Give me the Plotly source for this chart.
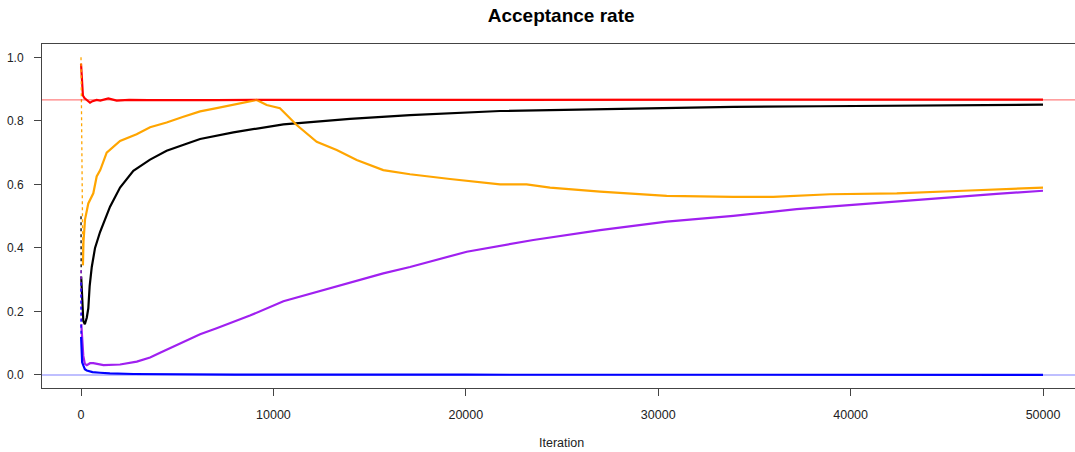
import plotly.graph_objects as go

# Running acceptance rate of five samplers over 50,000 iterations
black_iter = [1, 4, 10, 40, 80, 120, 200, 300, 380, 450, 560, 730, 990, 1250, 1510, 2030,
              2720, 3590, 4450, 5670, 6190, 7920, 10520, 13980, 17100, 21780, 26980,
              33900, 38410, 44130, 49320, 50000]
black_rate = [0.50, 0.33, 0.31, 0.26, 0.20, 0.17, 0.16, 0.18, 0.21, 0.28, 0.34, 0.40, 0.45,
              0.49, 0.53, 0.59, 0.643, 0.678, 0.706, 0.732, 0.743, 0.764, 0.789, 0.806,
              0.818, 0.831, 0.837, 0.844, 0.846, 0.848, 0.850, 0.851]

red_iter = [1, 10, 30, 60, 100, 180, 300, 470, 600, 815, 1000, 1420, 1855, 2500, 3500, 5000,
            7000, 9000, 12000, 16000, 20000, 25000, 30000, 35000, 40000, 45000, 50000]
red_rate = [0.98, 0.97, 0.93, 0.90, 0.88, 0.872, 0.865, 0.857, 0.862, 0.866, 0.864, 0.871,
            0.864, 0.866, 0.865, 0.864, 0.865, 0.866, 0.866, 0.866, 0.866, 0.867, 0.866,
            0.867, 0.867, 0.867, 0.867]

orange_iter = [1, 15, 40, 70, 100, 130, 210, 380, 640, 815, 1000, 1335, 2030, 2890, 3590,
               4450, 5320, 6190, 7050, 8000, 9130, 9650, 10340, 11210, 12250, 13290, 14330,
               15710, 17100, 19180, 21780, 23160, 24380, 26980, 30440, 33900, 35980, 38930,
               42400, 45860, 50000]
orange_rate = [1.00, 0.85, 0.70, 0.50, 0.345, 0.42, 0.49, 0.54, 0.572, 0.625, 0.645, 0.70,
               0.737, 0.758, 0.78, 0.795, 0.813, 0.83, 0.840, 0.852, 0.866, 0.850, 0.840,
               0.787, 0.734, 0.708, 0.677, 0.645, 0.632, 0.617, 0.600, 0.600, 0.590, 0.577,
               0.564, 0.561, 0.561, 0.569, 0.572, 0.580, 0.590]

purple_iter = [1, 5, 15, 60, 120, 200, 300, 470, 640, 1170, 1680, 2030, 2900, 3240, 3590,
               4110, 5320, 6190, 7050, 8780, 10520, 12250, 13980, 15710, 17100, 20050,
               23510, 26980, 30440, 33900, 37200, 40660, 44130, 47590, 50000]
purple_rate = [0.33, 0.25, 0.16, 0.10, 0.06, 0.035, 0.031, 0.037, 0.037, 0.031, 0.031, 0.033,
               0.042, 0.049, 0.055, 0.07, 0.105, 0.128, 0.147, 0.187, 0.232, 0.262, 0.292,
               0.320, 0.340, 0.388, 0.425, 0.456, 0.483, 0.501, 0.522, 0.538, 0.556, 0.570,
               0.580]

blue_iter = [1, 5, 20, 60, 120, 200, 300, 600, 990, 1500, 2720, 4000, 8000, 20000, 50000]
blue_rate = [0.29, 0.12, 0.08, 0.04, 0.03, 0.018, 0.014, 0.009, 0.007, 0.005, 0.003, 0.002,
             0.001, 0.0008, 0.0005]

# number of leading points shown as sparse burn-in dots
burn_in = {"black": 3, "red": 0, "orange": 5, "purple": 3, "blue": 2}

target_red = 0.866
target_blue = 0.0

x_ticks = [0, 10000, 20000, 30000, 40000, 50000]
y_ticks = [0.0, 0.2, 0.4, 0.6, 0.8, 1.0]

series = [
    ("black", "#000000", black_iter, black_rate),
    ("red", "#FF0000", red_iter, red_rate),
    ("orange", "#FFA500", orange_iter, orange_rate),
    ("purple", "#A020F0", purple_iter, purple_rate),
    ("blue", "#0000FF", blue_iter, blue_rate),
]

fig = go.Figure()
for name, color, xs, ys in series:
    n = burn_in[name]
    if n > 1:
        fig.add_trace(go.Scatter(x=xs[:n], y=ys[:n], mode="lines",
                                 line=dict(color=color, width=1.3, dash="dot"),
                                 showlegend=False, hoverinfo="skip"))
    start = max(n - 1, 0)
    fig.add_trace(go.Scatter(x=xs[start:], y=ys[start:], mode="lines",
                             line=dict(color=color, width=2.2),
                             name=name, showlegend=False))

for level, col in [(target_red, "rgba(255,0,0,0.5)"), (target_blue, "rgba(0,0,255,0.5)")]:
    fig.add_shape(type="line", xref="paper", x0=0, x1=1, yref="y", y0=level, y1=level,
                  line=dict(color=col, width=1.2), layer="above")

sans = "Liberation Sans, Arial, sans-serif"
axis_font = dict(family=sans, size=12, color="#222")

fig.update_layout(
    width=1075, height=452,
    margin=dict(l=42, r=0, t=44, b=64),
    paper_bgcolor="white", plot_bgcolor="white",
    title=dict(text="<b>Acceptance rate</b>", x=0.522, xanchor="center",
               y=1 - 15 / 452, yanchor="middle",
               font=dict(family=sans, size=19, color="#000")),
    xaxis=dict(range=[-2027, 51663], tickvals=x_ticks,
               ticktext=[str(v) for v in x_ticks],
               ticks="outside", ticklen=7, tickcolor="#444", tickwidth=1,
               showline=True, linecolor="#444", linewidth=1, mirror=True,
               showgrid=False, zeroline=False, ticklabelstandoff=8,
               tickfont=dict(family=sans, size=12.5, color="#222")),
    yaxis=dict(range=[-0.041, 1.042], tickvals=y_ticks,
               ticktext=[f"{v:.1f}" for v in y_ticks],
               ticks="outside", ticklen=7, tickcolor="#444", tickwidth=1,
               showline=True, linecolor="#444", linewidth=1, mirror=False,
               showgrid=False, zeroline=False, ticklabelstandoff=8, tickfont=axis_font),
    annotations=[dict(text="Iteration", xref="paper", yref="paper",
                      x=(561 - 42) / 1033, y=(388 - 443) / 344,
                      xanchor="center", yanchor="middle", showarrow=False,
                      font=dict(family=sans, size=12.5, color="#222"))],
)

fig.write_html("out.html")
